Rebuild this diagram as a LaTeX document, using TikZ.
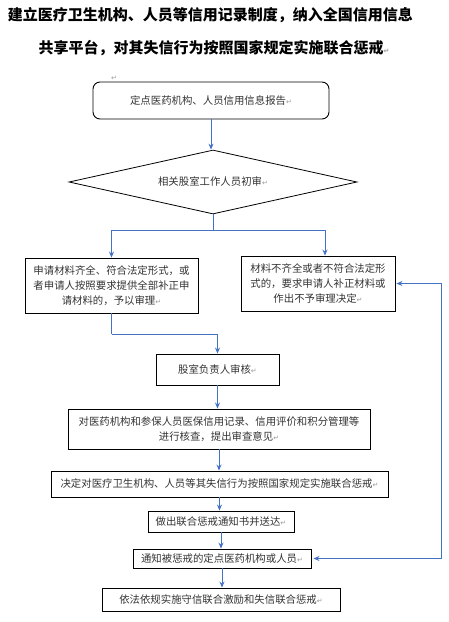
\documentclass[tikz,border=0pt]{standalone}
\usepackage{fontspec}
\setmainfont{Noto Sans CJK SC}
\newfontfamily\djv{DejaVu Sans}
\usetikzlibrary{arrows.meta,shapes.geometric}
\definecolor{arrblue}{HTML}{4472C4}
\definecolor{txt}{HTML}{333333}
\newcommand\rmk{{\djv\color{black!40}\fontsize{7}{7}\selectfont ↵}}
\tikzset{
  box/.style={draw=black, line width=0.9pt, inner sep=0pt, align=center, text=txt,
    font=\fontsize{10.4}{15}\selectfont},
  arr/.style={draw=arrblue, line width=0.9pt, -{Stealth[length=6pt,width=5pt]}},
  conn/.style={draw=arrblue, line width=0.9pt},
  dblarr/.style={draw=arrblue, line width=0.9pt, {Stealth[length=6pt,width=5pt]}-{Stealth[length=6pt,width=5pt]}},
  ttl/.style={inner sep=0pt, font=\fontsize{15}{15}\selectfont\bfseries, text=black}
}
\begin{document}
\begin{tikzpicture}[x=1pt,y=-1pt]
\useasboundingbox (0,0) rectangle (449,622);
% title
\node[ttl] (t1) at (210.5,15) {建立医疗卫生机构、人员等信用记录制度，纳入全国信用信息};
\node[ttl] (t2) at (214,48) {共享平台，对其失信行为按照国家规定实施联合惩戒\rmk};
\node[inner sep=0pt] (pm) at (114,78) {\rmk};
% nodes
\node[box, rounded corners=7pt, minimum width=236pt, minimum height=37pt] (b1) at (211,100.5) {定点医药机构、人员信用信息报告\rmk};
\node[box, shape=diamond, shape aspect=4.5, line width=0.8pt, minimum width=288pt, minimum height=64pt] (dia) at (213,182) {相关股室工作人员初审\rmk};
\node[box, minimum width=173pt, minimum height=55pt] (lb) at (111.5,285.5) {申请材料齐全、符合法定形式，或\\者申请人按照要求提供全部补正申\\请材料的，予以审理\rmk};
\node[box, minimum width=154pt, minimum height=55pt] (rb) at (318,283.5) {材料不齐全或者不符合法定形\\式的，要求申请人补正材料或\\作出不予审理决定\rmk};
\node[box, minimum width=123pt, minimum height=31pt] (gs) at (217.5,369.5) {股室负责人审核\rmk};
\node[box, minimum width=302pt, minimum height=40pt] (dc) at (219,429) {对医药机构和参保人员医保信用记录、信用评价和积分管理等\\进行核查，提出审查意见\rmk};
\node[box, minimum width=337pt, minimum height=26pt] (jd) at (219.5,484) {决定对医疗卫生机构、人员等其失信行为按照国家规定实施联合惩戒\rmk};
\node[box, minimum width=146pt, minimum height=21pt] (zc) at (221,521.5) {做出联合惩戒通知书并送达\rmk};
\node[box, minimum width=178pt, minimum height=19pt] (tz) at (222,558.5) {通知被惩戒的定点医药机构或人员\rmk};
\node[box, minimum width=238pt, minimum height=23pt] (yf) at (221,599.5) {依法依规实施守信联合激励和失信联合惩戒\rmk};
% connectors
\coordinate (split) at (213,230);
\coordinate (rtop) at (325,230);
\coordinate (merge) at (111.5,334);
\draw[arr] (b1.south) -- (b1.south |- dia.north);
\draw[conn] (dia.south) -- (split);
\draw[arr] (split) -| (lb.north);
\draw[arr] (split) -- (rtop) -- (rtop |- rb.north);
\draw[conn] (lb.south) -- (merge);
\draw[arr] (merge) -| (gs.north);
\draw[arr] (gs.south) -- (gs.south |- dc.north);
\draw[arr] (dc.south) -- (dc.south |- jd.north);
\draw[arr] (jd.south) -- (jd.south |- zc.north);
\draw[arr] (zc.south) -- (zc.south |- tz.north);
\draw[arr] (tz.south) -- (tz.south |- yf.north);
\draw[dblarr] ([xshift=1pt]rb.east) -- ++(45,0) |- ([xshift=2pt]tz.east);
\end{tikzpicture}
\end{document}
